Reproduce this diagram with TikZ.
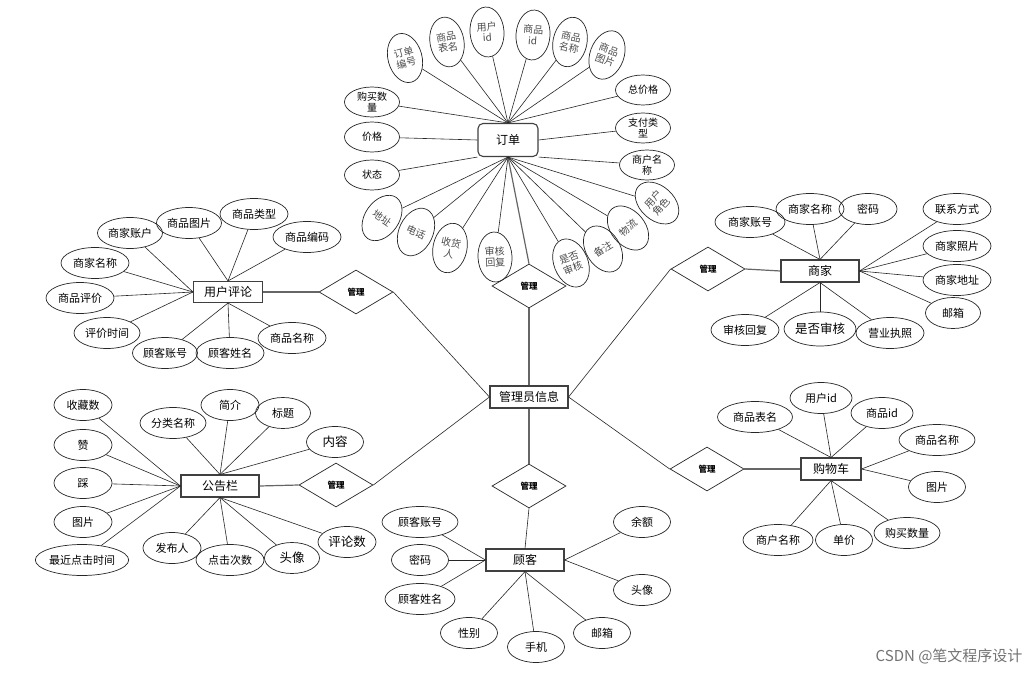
\documentclass[tikz,border=0pt]{standalone}
\usepackage{fontspec}
\setmainfont{Noto Sans CJK SC}
\usetikzlibrary{shapes.geometric}
\tikzset{
  ent/.style={draw=black!75, line width=1.1pt, minimum width=#1, minimum height=22, inner sep=0pt, font=\fontsize{12}{14}\selectfont},
  attr/.style={draw=black!85, ellipse, line width=0.7pt, minimum width=#1, minimum height=31, inner sep=0pt, font=\fontsize{11}{13}\selectfont},
  attr/.default=58,
  rattr/.style={draw=black!85, ellipse, line width=0.7pt, minimum width=34, minimum height=50, inner sep=0pt, rotate=#1, align=center, text=black!70, font=\fontsize{10}{11}\selectfont},
  oattr/.style={draw=black!85, ellipse, line width=0.7pt, minimum width=55, minimum height=30, inner sep=0pt, align=center, font=\fontsize{10}{11}\selectfont},
  rel/.style={draw=black!85, diamond, line width=0.7pt, minimum width=74, minimum height=44, inner sep=0pt, font=\fontsize{8.5}{10}\selectfont\bfseries},
  lk/.style={line width=0.6pt, black!85},
  rlk/.style={line width=1.2pt, black!60},
}
\begin{document}
\begin{tikzpicture}[x=1pt,y=-1pt]
    \useasboundingbox[fill=white] (0,0) rectangle (1031,674);
    % entities and relations
    \node[ent=78] (adm) at (529,397) {管理员信息};
    \node[ent=60, minimum height=33, rounded corners=5pt] (ord) at (508,140) {订单};
    \node[ent=69, minimum height=21] (cmt) at (228,292) {用户评论};
    \node[ent=78] (shop) at (820,271) {商家};
    \node[ent=78] (ntc) at (220,486) {公告栏};
    \node[ent=78] (cus) at (525,560) {顾客};
    \node[ent=60] (cart) at (831,469) {购物车};
    \node[rel] (r1) at (529,286) {管理}; \node[rel] (r2) at (356,292) {管理};
    \node[rel] (r3) at (336,485) {管理}; \node[rel] (r4) at (529,486) {管理};
    \node[rel] (r5) at (708,269) {管理}; \node[rel] (r6) at (707,469) {管理};
    \draw[rlk] (ord.south) -- (r1.north); \draw[rlk] (r1.south) -- (adm.north);
    \draw[lk] (r2.east) -- (adm.west); \draw[rlk] (r2.west) -- (cmt.east);
    \draw[lk] (r3.east) -- (adm.west); \draw[rlk] (r3.west) -- (ntc.east);
    \draw[rlk] (r4.north) -- (adm.south); \draw[lk] (r4.south) -- (cus.north);
    \draw[lk] (r5.west) -- (adm.east); \draw[rlk] (r5.east) -- (shop.west);
    \draw[lk] (r6.west) -- (adm.east); \draw[rlk] (r6.east) -- (cart.west);
    % order
    \node[rattr=15] (o1) at (405,58) {订单\\编号};
    \node[rattr=10] (o2) at (447,42) {商品\\表名};
    \node[rattr=4] (o3) at (487,32) {用户\\id};
    \node[rattr=-4] (o4) at (533,35) {商品\\id};
    \node[rattr=-12] (o5) at (570,42) {商品\\名称};
    \node[rattr=-20] (o6) at (607,55) {商品\\图片};
    \node[oattr] (o7) at (372,102) {购买数\\量};
    \node[oattr] (o8) at (372,137) {价格};
    \node[oattr] (o9) at (372,175) {状态};
    \node[oattr] (o10) at (643,90) {总价格};
    \node[oattr] (o11) at (643,128) {支付类\\型};
    \node[oattr] (o12) at (647,165) {商户名\\称};
    \node[rattr=-35] (o13) at (382,218) {地址};
    \node[rattr=-25] (o14) at (416,232) {电话};
    \node[rattr=-12] (o15) at (450,248) {收货\\人};
    \node[rattr=3] (o16) at (495,257) {审核\\回复};
    \node[rattr=22] (o17) at (571,263) {是否\\审核};
    \node[rattr=32] (o18) at (603,249) {备注};
    \node[rattr=40] (o19) at (628,228) {物流};
    \node[rattr=48] (o20) at (657,203) {用户\\角色};
    \foreach \a in {o1,o2,o3,o4,o5,o6,o7,o10} \draw[lk] (ord.north) -- (\a);
    \foreach \a in {o13,o14,o15,o16,o17,o18,o19,o20} \draw[lk] (ord.south) -- (\a);
    \draw[lk] (ord.west) -- (o8); \draw[lk] (ord.east) -- (o11);
    \draw[lk] (ord.south west) -- (o9); \draw[lk] (ord.south east) -- (o12);
    % user comments
    \node[attr=65] (c1) at (130,233) {商家账户};
    \node[attr=65] (c2) at (189,223) {商品图片};
    \node[attr=68] (c3) at (254,214) {商品类型};
    \node[attr=68] (c4) at (307,237) {商品编码};
    \node[attr=68] (c5) at (95,263) {商家名称};
    \node[attr=68] (c6) at (80,298) {商品评价};
    \node[attr=66] (c7) at (107,333) {评价时间};
    \node[attr=65] (c8) at (165,353) {顾客账号};
    \node[attr=68] (c9) at (230,353) {顾客姓名};
    \node[attr=68] (c10) at (292,338) {商品名称};
    \foreach \a in {c1,c5,c6,c7} \draw[lk] (cmt.west) -- (\a);
    \foreach \a in {c2,c3,c4} \draw[lk] (cmt.north) -- (\a);
    \foreach \a in {c8,c9,c10} \draw[lk] (cmt.south) -- (\a);
    % merchant
    \node[attr=70] (s1) at (750,222) {商家账号};
    \node[attr=68] (s2) at (810,209) {商家名称};
    \node[attr=58] (s3) at (868,209) {密码};
    \node[attr=68] (s4) at (957,209) {联系方式};
    \node[attr=68] (s5) at (957,246) {商家照片};
    \node[attr=68] (s6) at (957,280) {商家地址};
    \node[attr=55] (s7) at (953,313) {邮箱};
    \node[attr=68] (s8) at (745,330) {审核回复};
    \node[attr=72, minimum height=34, font=\fontsize{12.5}{14}\selectfont] (s9) at (820,329) {是否审核};
    \node[attr=68] (s10) at (890,333) {营业执照};
    \foreach \a in {s1,s2,s3} \draw[lk] (shop.north) -- (\a);
    \foreach \a in {s4,s5,s6,s7} \draw[lk] (shop.east) -- (\a);
    \foreach \a in {s8,s9,s10} \draw[lk] (shop.south) -- (\a);
    % notice board
    \node[attr] (n1) at (83,405) {收藏数};
    \node[attr] (n2) at (83,445) {赞};
    \node[attr] (n3) at (83,483) {踩};
    \node[attr] (n4) at (83,522) {图片};
    \node[attr=90] (n5) at (82,560) {最近点击时间};
    \node[attr=66] (n6) at (173,423) {分类名称};
    \node[attr] (n7) at (230,405) {简介};
    \node[attr=55] (n8) at (283,413) {标题};
    \node[attr=57, font=\fontsize{12.5}{14}\selectfont] (n9) at (335,442) {内容};
    \node[attr] (n10) at (172,548) {发布人};
    \node[attr=68] (n11) at (230,560) {点击次数};
    \node[attr=55, font=\fontsize{12.5}{14}\selectfont] (n12) at (292,558) {头像};
    \node[attr, font=\fontsize{12.5}{14}\selectfont] (n13) at (347,542) {评论数};
    \foreach \a in {n1,n2,n3,n4,n5} \draw[lk] (ntc.west) -- (\a);
    \foreach \a in {n6,n7,n8,n9} \draw[lk] (ntc.north) -- (\a);
    \foreach \a in {n10,n11,n12,n13} \draw[lk] (ntc.south) -- (\a);
    % customer
    \begin{scope}[every node/.append style={minimum height=33, font=\fontsize{12}{14}\selectfont}]
    \node[attr=76] (u1) at (420,522) {顾客账号};
    \node[attr=57] (u2) at (420,560) {密码};
    \node[attr=70] (u3) at (420,599) {顾客姓名};
    \node[attr=57] (u4) at (469,633) {性别};
    \node[attr=57] (u5) at (536,647) {手机};
    \node[attr=57] (u6) at (602,633) {邮箱};
    \node[attr=57] (u7) at (642,522) {余额};
    \node[attr=57] (u8) at (642,590) {头像};
    \end{scope}
    \foreach \a in {u1,u2,u3} \draw[lk] (cus.west) -- (\a);
    \foreach \a in {u4,u5,u6} \draw[lk] (cus.south) -- (\a);
    \foreach \a in {u7,u8} \draw[lk] (cus.east) -- (\a);
    % shopping cart
    \begin{scope}[every node/.append style={minimum height=32, font=\fontsize{12}{14}\selectfont}]
    \node[attr=75] (k1) at (755,417) {商品表名};
    \node[attr=62] (k2) at (821,398) {用户id};
    \node[attr=62] (k3) at (882,413) {商品id};
    \node[attr=76] (k4) at (937,440) {商品名称};
    \node[attr=57] (k5) at (937,487) {图片};
    \node[attr=70] (k6) at (778,540) {商户名称};
    \node[attr=57] (k7) at (844,540) {单价};
    \node[attr=66] (k8) at (907,533) {购买数量};
    \end{scope}
    \foreach \a in {k1,k2,k3} \draw[lk] (cart.north) -- (\a);
    \foreach \a in {k4,k5} \draw[lk] (cart.east) -- (\a);
    \foreach \a in {k6,k7,k8} \draw[lk] (cart.south) -- (\a);
    \node[text=black!55, font=\fontsize{15}{17}\selectfont, anchor=east] (wm) at (1026,656) {CSDN @笔文程序设计};
\end{tikzpicture}
\end{document}
